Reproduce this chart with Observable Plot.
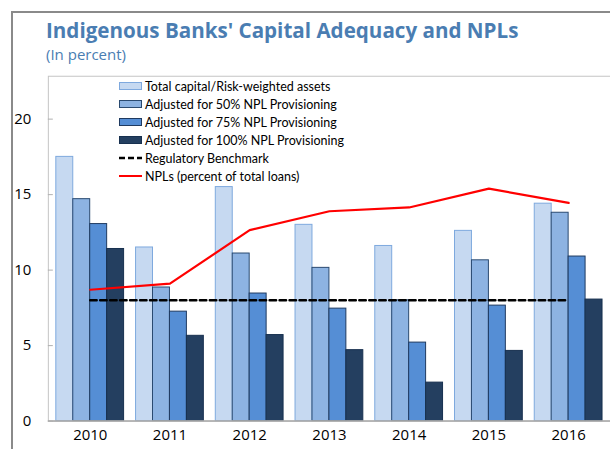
<!DOCTYPE html>
<html><head><meta charset="utf-8">
<script src="https://cdn.jsdelivr.net/npm/d3@7"></script>
<script src="https://cdn.jsdelivr.net/npm/@observablehq/plot@0.6"></script>
<style>
html,body{margin:0;padding:0;background:#fff;}
#wrap{position:relative;width:610px;height:449px;overflow:hidden;background:#fff;}
#outer{position:absolute;left:11px;top:11px;width:800px;height:600px;border-left:2px solid #8a8a8a;border-top:2px solid #8a8a8a;}
#title{position:absolute;left:46px;top:16px;font-family:"Open Sans",sans-serif;font-weight:700;font-size:20.6px;color:#4a7db2;white-space:nowrap;}
#sub{position:absolute;left:46px;top:44px;font-family:"Open Sans",sans-serif;font-size:15px;color:#4a7db2;white-space:nowrap;}
.layer{position:absolute;left:0;top:0;}
#legend{position:absolute;left:119px;top:77px;font-family:Lato,sans-serif;font-size:12.5px;color:#000;}
#legend .row{height:18px;display:flex;align-items:center;white-space:nowrap;}
#legend svg{margin-right:3px;flex:none;}
</style></head>
<body><div id="wrap">
<div id="outer"></div>
<div id="title">Indigenous Banks' Capital Adequacy and NPLs</div>
<div id="sub">(In percent)</div>
<div id="bars" class="layer"></div>
<div id="lines" class="layer"></div>
<div id="legend"></div>
</div>
<script>
const years = ["2010","2011","2012","2013","2014","2015","2016"];
const totalCapital = [17.5, 11.5, 15.5, 13.0, 11.6, 12.6, 14.4];
const adj50 = [14.7, 8.85, 11.1, 10.15, 8.0, 10.65, 13.8];
const adj75 = [13.05, 7.25, 8.45, 7.45, 5.2, 7.65, 10.9];
const adj100 = [11.4, 5.65, 5.7, 4.7, 2.55, 4.65, 8.05];
const benchmark = [8, 8, 8, 8, 8, 8, 8];
const npl = [8.7, 9.1, 12.65, 13.9, 14.15, 15.4, 14.45];
const yTicks = [0, 5, 10, 15, 20];

const seriesNames = ["Total capital/Risk-weighted assets","Adjusted for 50% NPL Provisioning","Adjusted for 75% NPL Provisioning","Adjusted for 100% NPL Provisioning"];
const seriesValues = [totalCapital, adj50, adj75, adj100];
const fills = ["#c6d9f1","#8db3e2","#558ed5","#243f60"];
const strokes = ["#7ea9de","#2a4a70","#1f3a60","#17304f"];

const barData = [];
years.forEach((y, i) => seriesValues.forEach((vals, s) => barData.push({year: y, series: seriesNames[s], value: vals[i]})));
const lineData = years.map((y, i) => ({year: y, npl: npl[i], bench: benchmark[i]}));

const W = 612, H = 449, ML = 48, MT = 76, MB = 27, MR = 0;
const yDomain = [0, 22.84];

const bars = Plot.plot({
  width: W, height: H, marginLeft: ML, marginRight: MR, marginTop: MT, marginBottom: MB,
  style: {fontFamily: "'Open Sans', sans-serif", fontSize: "15px", color: "#000", background: "transparent"},
  fx: {domain: years, paddingInner: 0.125, paddingOuter: 0.0625, label: null, axis: null},
  x: {domain: seriesNames, padding: 0, axis: null},
  y: {domain: yDomain, axis: null},
  color: {domain: seriesNames, range: fills},
  marks: [
    Plot.barY(barData, {fx: "year", x: "series", y: "value", fill: "series",
      stroke: d => strokes[seriesNames.indexOf(d.series)], strokeWidth: 1}),
    Plot.axisFx({anchor: "bottom", tickSize: 0, tickPadding: 8, label: null, fontSize: 15})
  ]
});
document.getElementById("bars").appendChild(bars);

const lines = Plot.plot({
  width: W, height: H, marginLeft: ML, marginRight: MR, marginTop: MT, marginBottom: MB,
  style: {fontFamily: "'Open Sans', sans-serif", fontSize: "15px", color: "#000", background: "transparent"},
  x: {type: "point", domain: years, padding: 0.5, axis: null},
  y: {domain: yDomain, axis: null},
  marks: [
    Plot.frame({stroke: "#c4c4c4", strokeWidth: 1}),
    Plot.ruleY([0], {stroke: "#a8a8a8", strokeWidth: 1.5}),
    Plot.axisY(yTicks, {anchor: "left", tickSize: -5, tickPadding: 22, stroke: "#b0b0b0", fill: "#000", label: null, fontSize: 15}),
    Plot.line(lineData, {x: "year", y: "bench", stroke: "#000", strokeWidth: 2.5, strokeDasharray: "6.5,3.5"}),
    Plot.line(lineData, {x: "year", y: "npl", stroke: "#ff0000", strokeWidth: 2.2})
  ]
});
document.getElementById("lines").appendChild(lines);

// Legend
const legend = d3.select("#legend");
seriesNames.forEach((name, i) => {
  const row = legend.append("div").attr("class", "row");
  const s = row.append("svg").attr("width", 23).attr("height", 8);
  s.append("rect").attr("x", 0.5).attr("y", 0.5).attr("width", 22).attr("height", 7)
    .attr("fill", fills[i]).attr("stroke", strokes[i]);
  row.append("span").text(name);
});
const lineItems = [["Regulatory Benchmark", "#000", "6,3", 2.5], ["NPLs (percent of total loans)", "#ff0000", null, 2]];
lineItems.forEach(([name, col, dash, w]) => {
  const row = legend.append("div").attr("class", "row");
  const s = row.append("svg").attr("width", 23).attr("height", 8);
  const l = s.append("line").attr("x1", 0).attr("x2", 23).attr("y1", 4).attr("y2", 4)
    .attr("stroke", col).attr("stroke-width", w);
  if (dash) l.attr("stroke-dasharray", dash);
  row.append("span").text(name);
});
</script>
</body></html>
